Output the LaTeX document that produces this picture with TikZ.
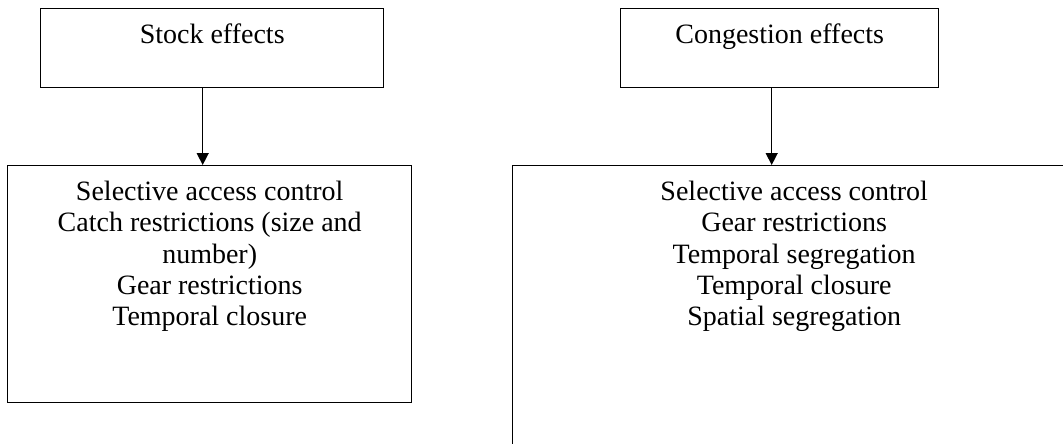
\documentclass[tikz,border=0pt]{standalone}
\usepackage{fontspec}
\setmainfont{Liberation Serif}
\usetikzlibrary{arrows.meta,positioning}

\tikzset{
  effectbox/.style={draw, line width=1.4pt, minimum width=#1, minimum height=79pt,
    inner sep=0pt, anchor=north west},
  measurebox/.style={draw, line width=1.4pt, inner sep=0pt, anchor=north west},
  boxtext/.style={font=\fontsize{28}{31.3}\selectfont, align=center,
    inner sep=0pt, anchor=north},
  flow/.style={line width=1.4pt, -{Triangle[length=12pt,width=12pt]}}
}

\begin{document}
\begin{tikzpicture}[x=1pt,y=1pt]

    \useasboundingbox (0,0) rectangle (1063,-444);
    \clip (0,0) rectangle (1063,-444);

    %% Stock effects

    % Top box
    \node[effectbox=343pt] (stock) at (40,-8) {};
    \node[boxtext] (stocktxt) at ([yshift=-16pt]stock.north) {Stock effects};

    % Measures
    \node[measurebox, minimum width=404pt, minimum height=237pt] (stockm) at (7,-165) {};
    \node[boxtext] (stockmtxt) at ([yshift=-16pt]stockm.north)
        {Selective access control\\ Catch restrictions (size and\\ number)\\
         Gear restrictions\\ Temporal closure};

    \draw[flow] ([xshift=-9.5pt]stock.south) -- ([xshift=-9.5pt]stock.south |- stockm.north);

    %% Congestion effects

    % Top box
    \node[effectbox=318pt] (cong) at (620,-8) {};
    \node[boxtext] (congtxt) at ([yshift=-16pt]cong.north) {Congestion effects};

    % Measures
    \node[measurebox, minimum width=563pt, minimum height=305pt] (congm) at (512,-165) {};
    \node[boxtext] (congmtxt) at ([yshift=-16pt]congm.north)
        {Selective access control\\ Gear restrictions\\ Temporal segregation\\
         Temporal closure\\ Spatial segregation};

    \draw[flow] ([xshift=-8pt]cong.south) -- ([xshift=-8pt]cong.south |- congm.north);

\end{tikzpicture}
\end{document}
